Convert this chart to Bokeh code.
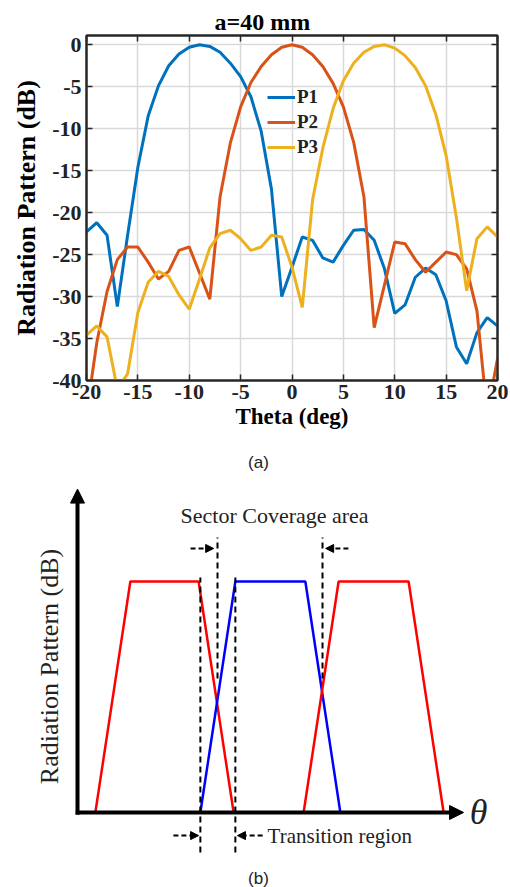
import math
from bokeh.plotting import figure
from bokeh.models import (Range1d, FixedTicker, LinearAxis, Legend, LegendItem,
                          Label, Arrow, NormalHead)
from bokeh.layouts import column, row
from bokeh.embed import file_html
from bokeh.resources import INLINE

# ---------------- data: (a) measured radiation patterns ----------------
theta = list(range(-20, 21))
p1 = [-22.3, -21.2, -22.7, -31.2, -22.7, -14.6, -8.5, -4.9, -2.5, -1.1,
      -0.3, 0.0, -0.2, -0.9, -2.2, -3.8, -6.2, -10.3, -17.2, -30.0,
      -26.5, -22.9, -23.3, -25.4, -25.9, -23.9, -22.1, -22.0, -23.3, -26.7,
      -32.0, -31.0, -27.7, -26.6, -27.4, -30.5, -36.0, -38.0, -34.3, -32.5,
      -33.5]
p2 = [-44.0, -35.5, -29.4, -25.6, -24.1, -24.1, -25.9, -27.9, -27.0, -24.5,
      -24.1, -27.2, -30.3, -18.1, -11.7, -7.4, -4.5, -2.6, -1.2, -0.3,
      0.0, -0.3, -1.2, -2.6, -4.6, -7.4, -11.6, -18.1, -33.7, -28.6,
      -23.5, -23.7, -25.6, -27.1, -25.9, -24.7, -25.0, -26.7, -31.7, -44.0,
      -37.4]
p3 = [-34.6, -33.5, -34.8, -41.0, -39.2, -31.9, -28.3, -27.0, -27.6, -29.8,
      -31.5, -27.9, -24.2, -22.5, -22.1, -23.1, -24.5, -24.1, -22.7, -22.9,
      -26.5, -31.3, -18.5, -12.3, -7.6, -4.3, -2.2, -0.9, -0.2, 0.0,
      -0.4, -1.3, -2.7, -4.9, -8.3, -13.2, -20.6, -29.3, -23.1, -21.7,
      -22.9]
series_names = ["P1", "P2", "P3"]
series_colors = ["#0072BD", "#D95319", "#EDB120"]
x_ticks = [-20, -15, -10, -5, 0, 5, 10, 15, 20]
y_ticks = [-40, -35, -30, -25, -20, -15, -10, -5, 0]
chart_title = "a=40 mm"
x_label = "Theta (deg)"
y_label = "Radiation Pattern (dB)"

# ---------------- data: (b) schematic sector patterns ----------------
level = [0, 1, 1, 0]
beam1_x = [0.51, 1.51, 3.46, 4.46]
beam2_x = [3.51, 4.51, 6.51, 7.51]
beam3_x = [6.46, 7.46, 9.46, 10.46]
beam_colors = ["#ff0000", "#0000ff", "#ff0000"]
transition_x = [3.51, 4.51]
sector_x = [4.0, 7.0]

SERIF = "Liberation Serif"
INK = "#222222"

# ======================= (a) =======================
top = figure(width=510, height=450, x_range=Range1d(-20, 20), y_range=Range1d(-40, 1.1),
             output_backend="svg", toolbar_location=None,
             min_border_left=86, min_border_right=13,
             min_border_top=35, min_border_bottom=70)
top.title.text = chart_title
top.title.text_font = SERIF
top.title.text_font_style = "bold"
top.title.text_font_size = "24px"
top.title.text_color = "black"
top.title.align = "left"
top.title.offset = 128
top.title.standoff = 2

top.outline_line_color = "#262626"
top.outline_line_width = 2
top.xgrid.ticker = FixedTicker(ticks=x_ticks)
top.ygrid.ticker = FixedTicker(ticks=y_ticks)
for g in (top.xgrid, top.ygrid):
    g.grid_line_color = "#d9d9d9"
    g.grid_line_width = 1.5

def style_axis(ax, ticks, show_labels):
    ax.ticker = FixedTicker(ticks=ticks)
    ax.major_tick_in = 6
    ax.major_tick_out = 0
    ax.minor_tick_in = 0
    ax.minor_tick_out = 0
    ax.axis_line_color = "#262626"
    ax.axis_line_width = 2
    ax.major_tick_line_color = "#262626"
    ax.major_tick_line_width = 1.5
    ax.major_label_text_font = SERIF
    ax.major_label_text_font_style = "bold"
    if show_labels:
        ax.major_label_text_color = INK
        ax.major_label_text_font_size = "22px"
        ax.major_label_overrides = {t: str(t) for t in ticks}
    else:
        ax.major_label_text_color = None
        ax.major_label_text_font_size = "1px"
        ax.major_label_standoff = 0

xa = top.xaxis[0]
ya = top.yaxis[0]
style_axis(xa, x_ticks, True)
style_axis(ya, y_ticks, True)
xa.major_label_standoff = 4
ya.major_label_standoff = 5
xa.axis_label = x_label
ya.axis_label = y_label
for ax, size, so in ((xa, "23px", 2), (ya, "26px", 8)):
    ax.axis_label_text_font = SERIF
    ax.axis_label_text_font_style = "bold"
    ax.axis_label_text_font_size = size
    ax.axis_label_text_color = "black"
    ax.axis_label_standoff = so

ax_top = LinearAxis()
style_axis(ax_top, x_ticks, False)
top.add_layout(ax_top, "above")
ax_right = LinearAxis()
style_axis(ax_right, y_ticks, False)
top.add_layout(ax_right, "right")

items = []
for name, ys, col in zip(series_names, (p1, p2, p3), series_colors):
    r = top.line(theta, ys, line_color=col, line_width=3)
    items.append(LegendItem(label=name, renderers=[r]))
leg = Legend(items=items, location=(181, 222), background_fill_alpha=0,
             border_line_color=None, padding=0, margin=0, spacing=3,
             glyph_width=28, glyph_height=22, label_height=22, label_standoff=2,
             label_text_font=SERIF, label_text_font_style="bold",
             label_text_font_size="19px", label_text_color=INK)
top.add_layout(leg)

# ======================= (b) =======================
# schematic units: 35 px per unit horizontally (axis origin at x=77 px),
# 231 px per unit vertically (baseline 362 px below the panel top)
bot = figure(width=510, height=437, x_range=Range1d(-2.2, 12.371),
             y_range=Range1d(-0.3247, 1.5671), output_backend="svg",
             toolbar_location=None, min_border=0, title=None,
             x_axis_location=None, y_axis_location=None)
bot.grid.visible = False
bot.outline_line_color = None

for fig in (top, bot):
    if "frame_align" in fig.properties():
        fig.frame_align = False

bot.add_layout(Label(x=5.17, y=1.514, text="(a)", text_font="Liberation Sans",
                     text_font_size="17px", text_align="center", text_baseline="middle",
                     text_color=INK))
bot.add_layout(Label(x=5.17, y=-0.286, text="(b)", text_font="Liberation Sans",
                     text_font_size="17px", text_align="center", text_baseline="middle",
                     text_color=INK))

# beams
for bx, col in zip((beam1_x, beam2_x, beam3_x), beam_colors):
    bot.line(bx, level, line_color=col, line_width=2.5)

# axes with arrow heads
bot.add_layout(Arrow(end=NormalHead(size=14, fill_color="black", line_color="black"),
                     x_start=0, y_start=-0.01, x_end=0, y_end=1.40,
                     line_width=4, line_color="black"))
bot.add_layout(Arrow(end=NormalHead(size=14, fill_color="black", line_color="black"),
                     x_start=-0.05, y_start=0, x_end=11.03, y_end=0,
                     line_width=4, line_color="black"))

# dashed boundary lines
bot.segment(x0=transition_x, y0=[-0.173] * 2, x1=transition_x, y1=[1.017] * 2,
            line_color="black", line_width=2, line_dash="6 4")
bot.segment(x0=sector_x, y0=[0.58] * 2, x1=sector_x, y1=[1.19] * 2,
            line_color="black", line_width=2, line_dash="6 4")

# dashed pointer arrows
def dash_arrow(x0, x1, y):
    bot.add_layout(Arrow(end=NormalHead(size=8, fill_color="black", line_color="black"),
                         x_start=x0, y_start=y, x_end=x1, y_end=y,
                         line_width=2, line_color="black", line_dash="5 3"))

dash_arrow(sector_x[0] - 0.77, sector_x[0] - 0.11, 1.143)
dash_arrow(sector_x[1] + 0.74, sector_x[1] + 0.09, 1.143)
dash_arrow(transition_x[0] - 0.77, transition_x[0] - 0.05, -0.10)
dash_arrow(transition_x[1] + 0.78, transition_x[1] + 0.06, -0.10)

bot.add_layout(Label(x=5.63, y=1.286, text="Sector Coverage area", text_font=SERIF,
                     text_font_size="22px", text_align="center", text_baseline="middle",
                     text_color=INK))
bot.add_layout(Label(x=5.43, y=-0.10, text="Transition region", text_font=SERIF,
                     text_font_size="21px", text_align="left", text_baseline="middle",
                     text_color=INK))
bot.add_layout(Label(x=11.46, y=0.0, text="θ", text_font=SERIF, text_font_style="italic",
                     text_font_size="36px", text_align="center", text_baseline="middle",
                     text_color=INK))
bot.add_layout(Label(x=-0.79, y=0.632, text=y_label, text_font=SERIF,
                     text_font_size="26px", text_align="center", text_baseline="middle",
                     angle=math.pi / 2, text_color=INK))

layout = column(top, row(bot))
open("out.html", "w").write(file_html(layout, INLINE))
